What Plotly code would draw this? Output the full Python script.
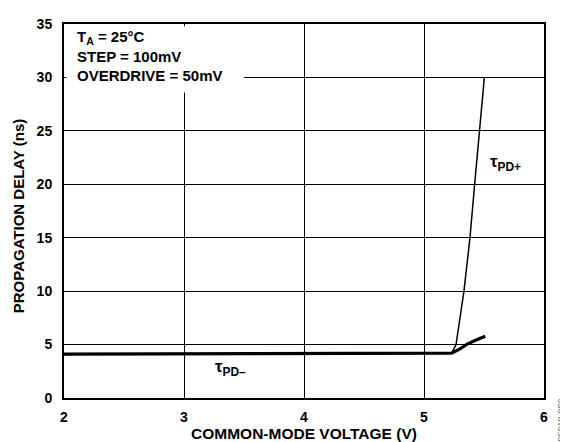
import plotly.graph_objects as go

# Data
x_pd_minus = [2.0, 3.0, 4.0, 5.0, 5.23, 5.30, 5.36, 5.43, 5.51]
y_pd_minus = [4.1, 4.12, 4.15, 4.18, 4.2, 4.6, 5.05, 5.4, 5.77]

x_pd_plus = [5.23, 5.267, 5.333, 5.383, 5.422, 5.461, 5.503]
y_pd_plus = [4.2, 5.0, 10.0, 15.0, 20.0, 25.0, 30.0]

x_ticks = [2, 3, 4, 5, 6]
y_ticks = [0, 5, 10, 15, 20, 25, 30, 35]

FONT = "Liberation Sans, Arial, sans-serif"
BOLD = dict(family=FONT, color="black", weight="bold")

fig = go.Figure()
fig.add_trace(go.Scatter(x=x_pd_minus, y=y_pd_minus, mode="lines",
                         line=dict(color="black", width=3.2), showlegend=False))
fig.add_trace(go.Scatter(x=x_pd_plus, y=y_pd_plus, mode="lines",
                         line=dict(color="black", width=1.5), showlegend=False))

fig.add_shape(type="rect", xref="x", yref="y", x0=2.02, x1=3.50, y0=28.6, y1=34.8,
              fillcolor="white", line=dict(width=0), layer="between")

fig.add_annotation(xref="x", yref="y", x=2.09, y=34.85, xanchor="left", yanchor="top",
                   align="left", showarrow=False,
                   text="<b>T<sub>A</sub> = 25°C<br>STEP = 100mV<br>OVERDRIVE = 50mV</b>",
                   font=dict(family=FONT, size=15, color="black"))

fig.add_annotation(xref="x", yref="y", x=5.53, y=22.0, xanchor="left", yanchor="middle",
                   showarrow=False, text="<b>τ<sub>PD+</sub></b>",
                   font=dict(family=FONT, size=17, color="black"))
fig.add_annotation(xref="x", yref="y", x=3.24, y=2.85, xanchor="left", yanchor="middle",
                   showarrow=False, text="<b>τ<sub>PD–</sub></b>",
                   font=dict(family=FONT, size=17, color="black"))

# axis titles
fig.add_annotation(xref="paper", yref="paper", x=0.5, y=-0.095, xanchor="center",
                   yanchor="middle", showarrow=False, text="COMMON-MODE VOLTAGE (V)",
                   font=dict(size=15.5, **BOLD))
fig.add_annotation(xref="paper", yref="paper", x=-0.0958, y=0.486, xanchor="center",
                   yanchor="middle", showarrow=False, textangle=-90,
                   text="PROPAGATION DELAY (ns)", font=dict(size=15, **BOLD))

fig.add_annotation(xref="paper", yref="paper", x=1.035, y=-0.058, xanchor="center",
                   yanchor="middle", showarrow=False, textangle=-90,
                   text="05910-009", font=dict(family=FONT, size=9, color="#666666"))

fig.update_xaxes(range=[2, 6], tickvals=x_ticks, showgrid=True, gridcolor="black",
                 gridwidth=1, showline=True, linecolor="black", linewidth=2, mirror=True,
                 zeroline=False, ticks="", ticklabelstandoff=5,
                 tickfont=dict(size=14, **BOLD))
fig.update_yaxes(range=[0, 35], tickvals=y_ticks, showgrid=True, gridcolor="black",
                 gridwidth=1, showline=True, linecolor="black", linewidth=2, mirror=True,
                 zeroline=False, ticks="", ticklabelstandoff=7,
                 tickfont=dict(size=14, **BOLD))

# page body has an 8px margin; compensate so the plot lands where the reference has it
fig.update_layout(width=560, height=434, margin=dict(l=56, r=24, t=8, b=44),
                  plot_bgcolor="white", paper_bgcolor="white",
                  font=dict(family=FONT, color="black"))

fig.write_html("out.html")
